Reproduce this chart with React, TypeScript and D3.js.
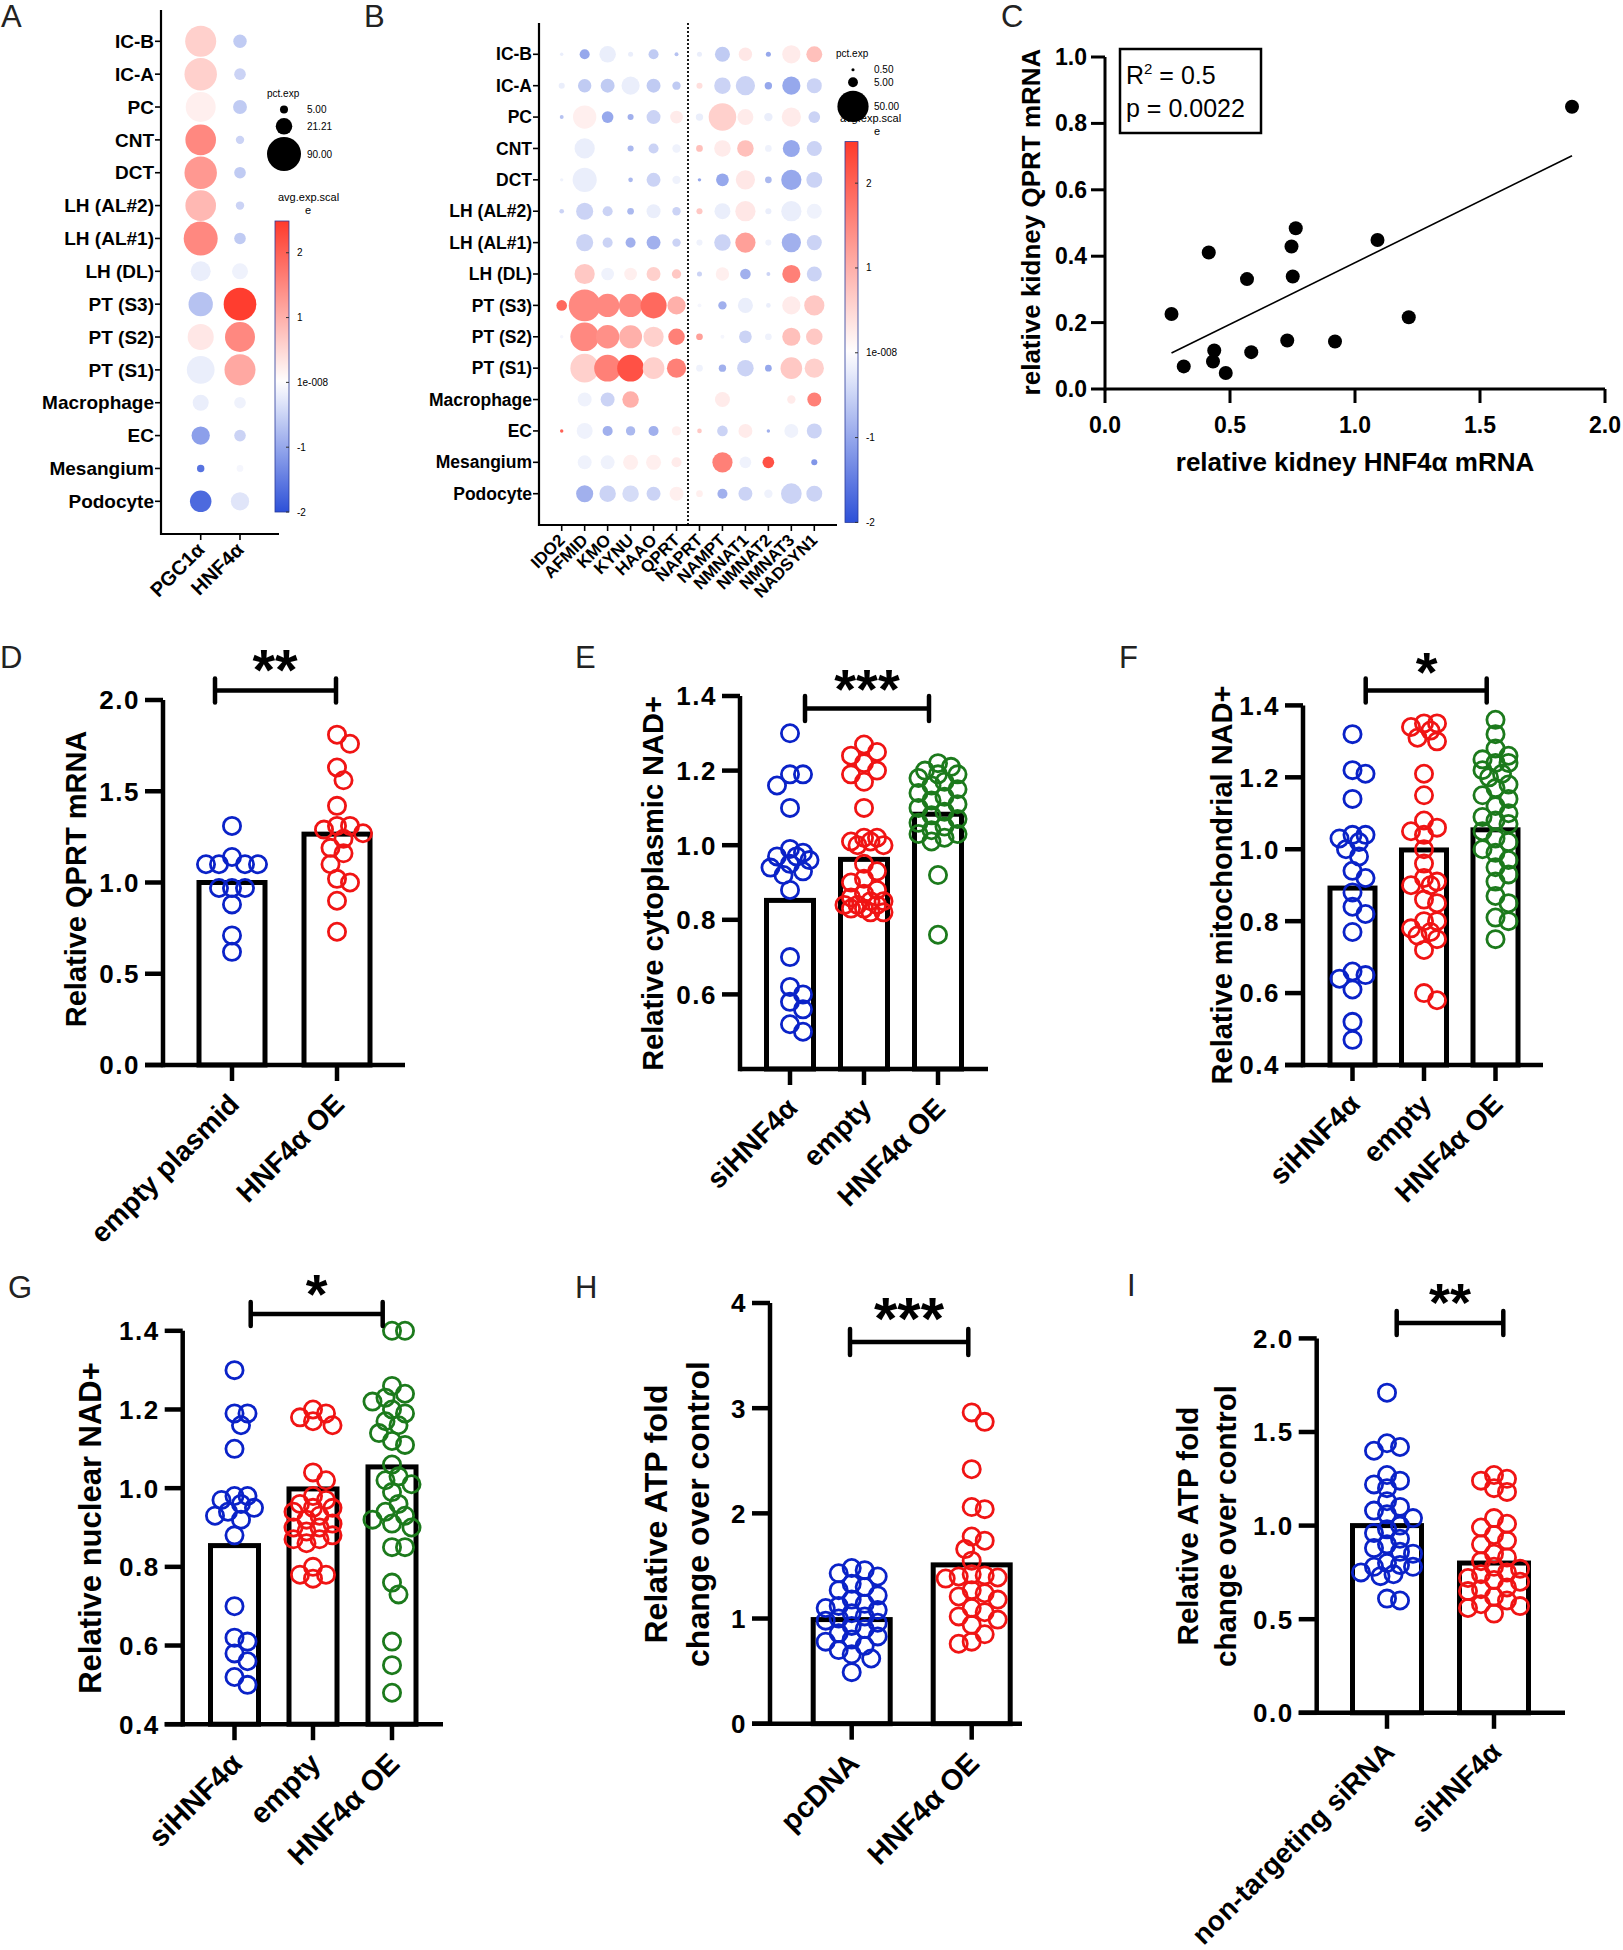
import React from "react";
import * as d3 from "d3";

const FONT = "'Liberation Sans', Arial, Helvetica, sans-serif";

// ---------- A / B : dot plots ----------
const cellTypes = ["IC-B", "IC-A", "PC", "CNT", "DCT", "LH (AL#2)", "LH (AL#1)", "LH (DL)",
  "PT (S3)", "PT (S2)", "PT (S1)", "Macrophage", "EC", "Mesangium", "Podocyte"];

const genesA = ["PGC1α", "HNF4α"];
const pctA = [[75, 14], [82, 10.5], [70, 15], [73, 5.5], [82, 10.5], [73, 5.5], [90, 10.5], [31, 20],
  [46, 83], [53, 70], [60, 75], [20, 10.5], [26, 10.5], [4.3, 3.5], [36, 26]];
const expA = [[0.6, -0.6], [0.6, -0.5], [0.2, -0.6], [1.5, -0.5], [1.3, -0.6], [0.9, -0.5], [1.5, -0.6], [-0.2, -0.15],
  [-0.7, 2.45], [0.3, 1.5], [-0.2, 1.1], [-0.2, -0.15], [-1.1, -0.5], [-1.6, -0.1], [-1.7, -0.3]];

const genesB = ["IDO2", "AFMID", "KMO", "KYNU", "HAAO", "QPRT", "NAPRT", "NAMPT", "NMNAT1", "NMNAT2", "NMNAT3", "NADSYN1"];
const pctB = [
  [0.6, 5.2, 14, 1.3, 5.2, 0.8, 1.3, 11.6, 9.2, 1.3, 17, 13],
  [1.9, 9.2, 10, 17, 10, 3.6, 1.9, 14, 19, 2.8, 17, 11.6],
  [0.8, 28, 7, 1.9, 10, 8.3, 2.8, 39, 13, 3.6, 19, 7],
  [0, 21, 0, 1.9, 5.2, 3.6, 2.3, 14, 14, 2.3, 15, 11.6],
  [0.6, 30, 0, 1.1, 10, 3.6, 0.6, 8.3, 19, 2.3, 21, 13],
  [1.1, 15, 5.2, 2.3, 10, 3.6, 1.9, 13, 21, 1.9, 21, 11.6],
  [0, 15, 5.2, 5.2, 10, 3.6, 1.9, 14, 21, 1.9, 19, 11.6],
  [0, 21, 8.3, 8.3, 10, 4.5, 1.3, 9.2, 5.8, 0.8, 17, 11.6],
  [5.8, 52, 28, 28, 35, 17, 0.8, 3.6, 11.6, 1.1, 17, 21],
  [0.6, 42, 28, 27, 21, 14, 2.3, 0.8, 8.3, 2.3, 17, 14],
  [0, 42, 37, 37, 24, 19, 2.3, 2.8, 14, 2.3, 24, 19],
  [0, 10, 10, 14, 0, 0, 0, 11.6, 0, 0, 3.6, 10],
  [0.6, 13, 5.2, 4.5, 5.2, 4.5, 1.1, 5.8, 10, 0.6, 10, 11.6],
  [0, 10, 10, 11.6, 11.6, 5.2, 0, 21, 7, 7, 0, 1.9],
  [0, 15, 14, 14, 10, 10, 2.3, 5.2, 10, 3.6, 22, 13],
];
const expB = [
  [-0.2, -1.0, -0.2, -0.2, -0.6, -0.7, -0.2, -0.6, 0.3, -1.0, 0.25, 0.8],
  [-0.2, -0.6, -0.6, -0.2, -0.6, -0.6, 0.4, -0.5, -0.5, -1.0, -1.0, -0.5],
  [-0.7, 0.2, -1.0, -0.9, -0.5, 0.25, -0.2, 0.6, 0.25, -0.2, 0.25, -0.5],
  [0, -0.2, 0, -0.8, -0.5, -0.15, 0.8, 0.25, 0.8, -0.15, -1.0, -0.5],
  [-0.15, -0.2, 0, -0.8, -0.5, -0.15, -1.0, -1.0, 0.3, -0.8, -1.0, -0.5],
  [-0.5, -0.5, -0.5, -0.8, -0.2, -0.5, 0.7, -0.2, 0.3, -0.2, -0.2, -0.15],
  [0, -0.5, -0.5, -0.9, -0.9, -0.5, -0.15, -0.5, 1.2, -0.15, -0.9, -0.5],
  [0, 0.7, -0.15, 0.2, 0.6, 0.7, -0.5, 0.2, -0.9, -0.5, 1.6, -0.5],
  [1.9, 1.5, 1.5, 1.5, 1.9, 1.0, -0.1, -0.9, -0.2, -0.2, 0.25, 0.7],
  [-0.1, 1.5, 1.4, 1.0, 0.6, 1.6, 1.2, -0.1, -0.5, -0.15, 0.8, 0.7],
  [0, 0.6, 1.6, 2.2, 0.6, 1.6, -0.15, -0.9, -0.5, -1.0, 0.7, 0.6],
  [0, -0.15, -0.5, 1.0, 0, 0, 0, 0.25, 0, 0, 0.25, 1.6],
  [2.0, -0.15, -0.9, -0.8, -0.9, 0.2, 0.7, -0.5, 0.25, -0.9, -0.15, -0.5],
  [0, -0.15, -0.15, 0.2, 0.2, 0.25, 0, 1.6, -0.15, 2.2, 0, -1.2],
  [0, -0.9, -0.5, -0.4, -0.5, 0.2, 0.2, -0.9, -0.5, -0.15, -0.5, -0.5],
];
const legendPctA = [5, 21.21, 90];
const legendPctB = [0.5, 5, 50];
const colorTicks = [2, 1, 0, -1, -2];
const colorTickLabels = ["2", "1", "1e-008", "-1", "-2"];

// ---------- C : scatter ----------
const hnf4Kidney = [1.868, 1.090, 0.763, 0.746, 0.751, 0.415, 0.568, 0.266, 1.215, 0.729, 0.920, 0.437, 0.585, 0.432, 0.315, 0.483];
const qprtKidney = [0.850, 0.449, 0.484, 0.429, 0.339, 0.411, 0.331, 0.226, 0.216, 0.146, 0.143, 0.116, 0.111, 0.083, 0.068, 0.048];

// ---------- D..I : bar + scatter ----------
const dCats = ["empty plasmid", "HNF4α OE"];
const dMeans = [1.0, 1.265];
const dEmpty = [1.31, 1.10, 1.10, 1.10, 1.10, 1.14, 0.97, 0.97, 0.97, 0.88, 0.71, 0.62];
const dOE = [1.81, 1.76, 1.63, 1.56, 1.42, 1.31, 1.31, 1.29, 1.27, 1.24, 1.19, 1.16, 1.10, 1.02, 1.00, 0.90, 0.73];

const nadCats = ["siHNF4α", "empty", "HNF4α OE"];
const eMeans = [0.852, 0.962, 1.083];
const eSi = [1.30, 1.19, 1.19, 1.16, 1.10, 0.99, 0.98, 0.97, 0.97, 0.96, 0.95, 0.94, 0.93, 0.92, 0.88, 0.70, 0.62, 0.60, 0.58, 0.56, 0.52, 0.50];
const eEmpty = [1.27, 1.25, 1.24, 1.22, 1.20, 1.19, 1.17, 1.10, 1.02, 1.02, 1.01, 1.01, 1.00, 1.00, 0.95, 0.93, 0.91, 0.90, 0.88, 0.87, 0.86, 0.85, 0.85, 0.84, 0.84, 0.84, 0.83, 0.83, 0.82, 0.82];
const eOE = [1.22, 1.21, 1.20, 1.19, 1.19, 1.18, 1.17, 1.16, 1.15, 1.14, 1.13, 1.12, 1.11, 1.10, 1.09, 1.08, 1.07, 1.06, 1.05, 1.04, 1.03, 1.03, 1.02, 1.01, 0.92, 0.76];

const fMeans = [0.892, 0.998, 1.054];
const fSi = [1.32, 1.22, 1.21, 1.14, 1.04, 1.04, 1.03, 1.02, 1.00, 0.98, 0.94, 0.92, 0.88, 0.84, 0.82, 0.77, 0.66, 0.65, 0.64, 0.61, 0.52, 0.47];
const fEmpty = [1.35, 1.35, 1.34, 1.33, 1.31, 1.30, 1.21, 1.15, 1.08, 1.06, 1.05, 1.04, 1.00, 0.96, 0.92, 0.91, 0.90, 0.90, 0.86, 0.85, 0.80, 0.80, 0.78, 0.77, 0.76, 0.75, 0.72, 0.60, 0.58];
const fOE = [1.36, 1.32, 1.28, 1.26, 1.25, 1.24, 1.24, 1.22, 1.21, 1.20, 1.18, 1.17, 1.15, 1.14, 1.12, 1.10, 1.09, 1.08, 1.07, 1.05, 1.03, 1.02, 1.00, 0.99, 0.97, 0.95, 0.93, 0.91, 0.87, 0.85, 0.81, 0.80, 0.75];

const gMeans = [0.854, 0.998, 1.054];
const gSi = [1.30, 1.19, 1.19, 1.16, 1.10, 0.98, 0.98, 0.97, 0.96, 0.95, 0.94, 0.93, 0.92, 0.88, 0.70, 0.62, 0.61, 0.58, 0.56, 0.52, 0.50];
const gEmpty = [1.20, 1.19, 1.18, 1.17, 1.16, 1.04, 1.02, 0.98, 0.97, 0.96, 0.95, 0.95, 0.94, 0.93, 0.92, 0.91, 0.90, 0.90, 0.89, 0.88, 0.87, 0.87, 0.86, 0.80, 0.78, 0.78, 0.77];
const gOE = [1.40, 1.40, 1.26, 1.24, 1.23, 1.22, 1.20, 1.19, 1.17, 1.16, 1.14, 1.12, 1.11, 1.06, 1.03, 1.02, 1.01, 0.99, 0.96, 0.94, 0.93, 0.92, 0.91, 0.90, 0.85, 0.85, 0.76, 0.73, 0.61, 0.55, 0.48];

const hCats = ["pcDNA", "HNF4α OE"];
const hMeans = [0.99, 1.51];
const hPc = [1.48, 1.46, 1.43, 1.40, 1.33, 1.30, 1.27, 1.22, 1.18, 1.14, 1.12, 1.10, 1.08, 1.05, 1.02, 1.00, 0.98, 0.96, 0.93, 0.90, 0.86, 0.83, 0.80, 0.78, 0.74, 0.70, 0.66, 0.62, 0.49];
const hOE = [2.96, 2.87, 2.42, 2.06, 2.04, 1.78, 1.74, 1.66, 1.55, 1.42, 1.41, 1.40, 1.39, 1.38, 1.27, 1.24, 1.21, 1.18, 1.10, 1.06, 1.02, 0.99, 0.94, 0.85, 0.78, 0.76];

const iCats = ["non-targeting siRNA", "siHNF4α"];
const iMeans = [1.0, 0.80];
const iNt = [1.71, 1.44, 1.42, 1.40, 1.27, 1.24, 1.22, 1.20, 1.13, 1.10, 1.08, 1.06, 1.04, 1.00, 0.98, 0.96, 0.93, 0.90, 0.88, 0.86, 0.85, 0.80, 0.79, 0.78, 0.78, 0.75, 0.74, 0.73, 0.61, 0.60];
const iSi = [1.27, 1.25, 1.24, 1.20, 1.18, 1.04, 1.01, 0.99, 0.95, 0.92, 0.90, 0.85, 0.83, 0.81, 0.78, 0.77, 0.75, 0.74, 0.72, 0.71, 0.70, 0.67, 0.66, 0.65, 0.62, 0.60, 0.58, 0.57, 0.56, 0.53];

const BLUE = "#0a22c8";
const RED = "#f01414";
const GREEN = "#1c7a1c";

const expColor = d3.scaleLinear<string>()
  .domain([-2, 0, 2.49])
  .range(["#2d50d8", "#ffffff", "#ff3a2c"])
  .interpolate(d3.interpolateRgb)
  .clamp(true);

// simple beeswarm so the open circles spread like GraphPad does
function swarm(vals: number[], y: (v: number) => number, cx: number, maxOff: number, minD: number) {
  const step = minD / 2;
  const n = Math.floor(maxOff / step);
  const offs = [0];
  for (let k = 1; k <= n; k++) offs.push(k * step, -k * step);
  const placed: { x: number; y: number }[] = [];
  const order = vals.map((v, i) => i).sort((a, b) => vals[b] - vals[a]);
  const out: { x: number; y: number }[] = new Array(vals.length);
  for (const i of order) {
    const py = y(vals[i]);
    let best = 0, bestD = -1;
    for (const o of offs) {
      let d = Infinity;
      for (const q of placed) d = Math.min(d, Math.hypot(q.x - (cx + o), q.y - py));
      if (d >= minD) { best = o; bestD = d; break; }
      if (d > bestD) { bestD = d; best = o; }
    }
    const p = { x: cx + best, y: py };
    placed.push(p);
    out[i] = p;
  }
  return out;
}

function DotPlot({ id, genes, pct, exp, L }: any) {
  const y = d3.scalePoint<string>().domain(cellTypes).range([L.rowTop, L.rowBottom]);
  const x = d3.scalePoint<string>().domain(genes).range([L.colLeft, L.colRight]);
  const r = d3.scaleSqrt().domain([0, L.pctMax]).range([0, L.rMax]);
  const cb = d3.scaleLinear().domain([-2, 2.49]).range([L.cbBottom, L.cbTop]);
  const stops = d3.range(0, 1.0001, 0.05);
  return (
    <g>
      <defs>
        <linearGradient id={id} x1="0" y1="1" x2="0" y2="0">
          {stops.map((t) => <stop key={t} offset={t} stopColor={expColor(-2 + t * 4.49)} />)}
        </linearGradient>
      </defs>
      <text x={L.lx} y={L.ly} fontSize={31} fill="#222">{L.letter}</text>
      {L.dotted != null && (
        <line x1={L.dotted} x2={L.dotted} y1={L.axisTop} y2={L.axisY} stroke="#000" strokeWidth={1.8} strokeDasharray="2,2" />
      )}
      {cellTypes.map((ct, i) => genes.map((g: string, j: number) => pct[i][j] > 0 ? (
        <circle key={ct + g} cx={x(g)} cy={y(ct)} r={r(pct[i][j])} fill={expColor(exp[i][j])} />
      ) : null))}
      <line x1={L.axisX} x2={L.axisX} y1={L.axisTop} y2={L.axisY + 1} stroke="#000" strokeWidth={2.2} />
      <line x1={L.axisX} x2={L.axisEnd} y1={L.axisY} y2={L.axisY} stroke="#000" strokeWidth={2.2} />
      {cellTypes.map((ct) => (
        <g key={ct}>
          <line x1={L.axisX - 6} x2={L.axisX} y1={y(ct)} y2={y(ct)} stroke="#000" strokeWidth={1.6} />
          <text x={L.axisX - 7} y={y(ct)} dy="0.35em" textAnchor="end" fontSize={L.rowFs} fontWeight="bold">{ct}</text>
        </g>
      ))}
      {genes.map((g: string) => (
        <g key={g}>
          <line x1={x(g)} x2={x(g)} y1={L.axisY} y2={L.axisY + 6} stroke="#000" strokeWidth={1.6} />
          <text transform={`translate(${x(g)},${L.axisY + 12}) rotate(-45)`} dy="0.35em" textAnchor="end"
            fontSize={L.colFs} fontWeight="bold">{g}</text>
        </g>
      ))}
      {/* size legend */}
      <text x={L.pctX} y={L.pctY} fontSize={L.legFs}>pct.exp</text>
      <text x={L.avgX} y={L.avgY} fontSize={L.legFs + 1}>avg.exp.scal</text>
      <text x={L.eX} y={L.avgY + 13} fontSize={L.legFs + 1} textAnchor="middle">e</text>
      {L.legendPct.map((p: number, k: number) => (
        <g key={p}>
          <circle cx={L.legCx} cy={L.legYs[k]} r={r(p)} fill="#000" />
          <text x={L.legLabelX} y={L.legYs[k]} dy="0.35em" fontSize={L.legFs}>{d3.format(".2f")(p)}</text>
        </g>
      ))}
      {/* colour bar */}
      <rect x={L.cbX} y={L.cbTop} width={L.cbW} height={L.cbBottom - L.cbTop} fill={`url(#${id})`} stroke="#2a3a9a" strokeWidth={0.8} />
      {colorTicks.map((v, k) => (
        <g key={v}>
          <line x1={L.cbX + L.cbW - 3} x2={L.cbX + L.cbW} y1={cb(v)} y2={cb(v)} stroke="#333" strokeWidth={1} />
          <text x={L.cbLabelX} y={cb(v)} dy="0.35em" fontSize={L.legFs}>{colorTickLabels[k]}</text>
        </g>
      ))}
    </g>
  );
}

function Scatter() {
  const x = d3.scaleLinear().domain([0, 2]).range([1105, 1605]);
  const y = d3.scaleLinear().domain([0, 1]).range([389, 57]);
  const mx = d3.mean(hnf4Kidney) as number;
  const my = d3.mean(qprtKidney) as number;
  const slope = d3.sum(hnf4Kidney.map((v, i) => (v - mx) * (qprtKidney[i] - my))) / d3.sum(hnf4Kidney.map((v) => (v - mx) ** 2));
  const icpt = my - slope * mx;
  const [x0, x1] = d3.extent(hnf4Kidney) as [number, number];
  const line = d3.line<number>().x((v) => x(v)).y((v) => y(icpt + slope * v));
  return (
    <g>
      <text x={1001} y={27} fontSize={31} fill="#222">C</text>
      <line x1={x(0)} x2={x(0)} y1={y(1)} y2={y(0) + 1.5} stroke="#000" strokeWidth={3} />
      <line x1={x(0)} x2={x(2)} y1={y(0)} y2={y(0)} stroke="#000" strokeWidth={3} />
      {y.ticks(5).map((t) => (
        <g key={t}>
          <line x1={x(0) - 14} x2={x(0)} y1={y(t)} y2={y(t)} stroke="#000" strokeWidth={3} />
          <text x={1087} y={y(t)} dy="0.35em" textAnchor="end" fontSize={23} fontWeight="bold">{d3.format(".1f")(t)}</text>
        </g>
      ))}
      {x.ticks(4).map((t) => (
        <g key={t}>
          <line x1={x(t)} x2={x(t)} y1={y(0)} y2={y(0) + 14} stroke="#000" strokeWidth={3} />
          <text x={x(t)} y={433} textAnchor="middle" fontSize={23} fontWeight="bold">{d3.format(".1f")(t)}</text>
        </g>
      ))}
      <path d={line([x0, x1]) as string} stroke="#000" strokeWidth={1.6} fill="none" />
      {hnf4Kidney.map((v, i) => (
        <circle key={i} cx={x(v)} cy={y(qprtKidney[i])} r={7} fill="#000" />
      ))}
      <rect x={1120} y={49} width={141} height={84} fill="none" stroke="#000" strokeWidth={2.5} />
      <text x={1126} y={84} fontSize={25}>R<tspan fontSize={15} dy={-10}>2</tspan><tspan dy={10}> = 0.5</tspan></text>
      <text x={1126} y={117} fontSize={25}>p = 0.0022</text>
      <text transform={`translate(1031,222) rotate(-90)`} dy="0.35em" textAnchor="middle" fontSize={26} fontWeight="bold">relative kidney QPRT mRNA</text>
      <text x={1355} y={471} textAnchor="middle" fontSize={26} fontWeight="bold">relative kidney HNF4α mRNA</text>
    </g>
  );
}

function BarScatter({ cats, means, groups, colors, L }: any) {
  const y = d3.scaleLinear().domain(L.domain).range([L.yBottom, L.yTop]);
  const x = d3.scaleOrdinal<string, number>().domain(cats).range(L.centers);
  const fmt = d3.format(L.fmt);
  const TL = 18;
  const hasBottomTick = L.ticks[0] === L.domain[0];
  const R = 8.6;
  return (
    <g>
      <text x={L.lx} y={L.ly} fontSize={31} fill="#222">{L.letter}</text>
      {cats.map((c: string, i: number) => (
        <rect key={c} x={x(c) - L.barW / 2} y={y(means[i])} width={L.barW} height={y(L.domain[0]) - y(means[i])}
          fill="#fff" stroke="#000" strokeWidth={5} />
      ))}
      <line x1={L.axisX} x2={L.axisX} y1={L.yTop} y2={L.yBottom + 2.2} stroke="#000" strokeWidth={4.5} />
      <line x1={hasBottomTick ? L.axisX - TL : L.axisX} x2={L.xEnd} y1={L.yBottom} y2={L.yBottom} stroke="#000" strokeWidth={4.5} />
      {L.ticks.map((t: number) => (
        <g key={t}>
          <line x1={L.axisX - TL} x2={L.axisX} y1={y(t)} y2={y(t)} stroke="#000" strokeWidth={4.5} />
          <text x={L.axisX - TL - 5} y={y(t)} dy="0.36em" textAnchor="end" fontSize={26} fontWeight="bold" letterSpacing={1.5}>{fmt(t)}</text>
        </g>
      ))}
      {cats.map((c: string) => (
        <g key={c}>
          <line x1={x(c)} x2={x(c)} y1={L.yBottom} y2={L.yBottom + 16} stroke="#000" strokeWidth={4.5} />
          <text transform={`translate(${x(c) + 2},${L.yBottom + 34}) rotate(-45)`} dy="0.35em" textAnchor="end"
            fontSize={L.catFs} fontWeight="bold">{c}</text>
        </g>
      ))}
      {groups.map((vals: number[], gi: number) =>
        swarm(vals, y, x(cats[gi]), L.barW * 0.42, 13).map((p, k) => (
          <circle key={gi + "-" + k} cx={p.x} cy={p.y} r={R} fill="none" stroke={colors[gi]} strokeWidth={2.8} />
        ))
      )}
      <line x1={L.sig.x0} x2={L.sig.x1} y1={L.sig.y} y2={L.sig.y} stroke="#000" strokeWidth={4.5} />
      <line x1={L.sig.x0} x2={L.sig.x0} y1={L.sig.y - L.sig.cap} y2={L.sig.y + L.sig.cap} stroke="#000" strokeWidth={4.5} strokeLinecap="round" />
      <line x1={L.sig.x1} x2={L.sig.x1} y1={L.sig.y - L.sig.cap} y2={L.sig.y + L.sig.cap} stroke="#000" strokeWidth={4.5} strokeLinecap="round" />
      <text x={L.sig.tx} y={L.sig.ty + 0.46 * L.sig.fs} textAnchor="middle" fontSize={L.sig.fs} fontWeight="bold">{L.sig.label}</text>
      {L.titles.map((t: string, k: number) => (
        <text key={t} transform={`translate(${L.titleX[k]},${L.titleY}) rotate(-90)`} dy="0.35em" textAnchor="middle"
          fontSize={L.titleFs} fontWeight="bold">{t}</text>
      ))}
    </g>
  );
}

const layoutA = {
  letter: "A", lx: 1, ly: 27, rowTop: 41.3, rowBottom: 501.3, colLeft: 200.7, colRight: 240,
  axisX: 161, axisTop: 10, axisY: 534, axisEnd: 279, rowFs: 19, colFs: 20, pctMax: 90, rMax: 17,
  pctX: 267, pctY: 97, legendPct: legendPctA, legCx: 284, legYs: [109.5, 126.3, 154], legLabelX: 307, legFs: 10,
  avgX: 278, avgY: 201, eX: 308, cbX: 275, cbW: 14, cbTop: 221, cbBottom: 512, cbLabelX: 297,
};
const layoutB = {
  letter: "B", lx: 364, ly: 27, rowTop: 54.3, rowBottom: 493.7, colLeft: 561.7, colRight: 814.3,
  axisX: 539, axisTop: 23, axisY: 525, axisEnd: 837, rowFs: 17.5, colFs: 17, pctMax: 50, rMax: 15.6, dotted: 688,
  pctX: 836, pctY: 57, legendPct: legendPctB, legCx: 853, legYs: [69.7, 82.3, 106.4], legLabelX: 874, legFs: 10,
  avgX: 840, avgY: 122, eX: 877, cbX: 845, cbW: 13, cbTop: 141.6, cbBottom: 522.4, cbLabelX: 866,
};

const ticks04 = [0.4, 0.6, 0.8, 1.0, 1.2, 1.4];

const layoutD = {
  letter: "D", lx: 0, ly: 668, axisX: 163, yTop: 700, yBottom: 1065, domain: [0, 2], ticks: [0, 0.5, 1, 1.5, 2], fmt: ".1f",
  centers: [232, 337], barW: 66, xEnd: 405, catFs: 28,
  sig: { x0: 215, x1: 336, y: 690.5, cap: 12, tx: 275, ty: 663.5, fs: 58, label: "**" },
  titles: ["Relative QPRT mRNA"], titleX: [76], titleY: 879, titleFs: 29,
};
const layoutE = {
  letter: "E", lx: 575, ly: 668, axisX: 740, yTop: 696, yBottom: 1069, domain: [0.4, 1.4], ticks: [0.6, 0.8, 1.0, 1.2, 1.4], fmt: ".1f",
  centers: [790, 864, 938], barW: 47, xEnd: 988, catFs: 28,
  sig: { x0: 805, x1: 929, y: 708.5, cap: 12.5, tx: 867, ty: 682, fs: 56, label: "***" },
  titles: ["Relative cytoplasmic NAD+"], titleX: [653], titleY: 883.5, titleFs: 29,
};
const layoutF = {
  letter: "F", lx: 1119, ly: 668, axisX: 1303, yTop: 705.4, yBottom: 1065, domain: [0.4, 1.4], ticks: ticks04, fmt: ".1f",
  centers: [1352.5, 1424, 1495.5], barW: 45, xEnd: 1543, catFs: 28,
  sig: { x0: 1365.7, x1: 1486.7, y: 690.5, cap: 12, tx: 1426.7, ty: 665, fs: 56, label: "*" },
  titles: ["Relative mitochondrial NAD+"], titleX: [1221.7], titleY: 885, titleFs: 29,
};
const layoutG = {
  letter: "G", lx: 8, ly: 1297.5, axisX: 182.7, yTop: 1330.8, yBottom: 1724.2, domain: [0.4, 1.4], ticks: ticks04, fmt: ".1f",
  centers: [234.5, 313, 392], barW: 48, xEnd: 443, catFs: 29,
  sig: { x0: 250.7, x1: 382.7, y: 1314, cap: 12, tx: 316.7, ty: 1287, fs: 56, label: "*" },
  titles: ["Relative nuclear NAD+"], titleX: [90], titleY: 1528, titleFs: 31,
};
const layoutH = {
  letter: "H", lx: 575, ly: 1298, axisX: 770, yTop: 1303, yBottom: 1723.7, domain: [0, 4], ticks: [0, 1, 2, 3, 4], fmt: "d",
  centers: [851.7, 971.7], barW: 77, xEnd: 1022, catFs: 29,
  sig: { x0: 850, x1: 968.3, y: 1342, cap: 13, tx: 909, ty: 1311, fs: 60, label: "***" },
  titles: ["Relative ATP fold", "change over control"], titleX: [655.8, 697.5], titleY: 1514, titleFs: 32,
};
const layoutI = {
  letter: "I", lx: 1127, ly: 1296, axisX: 1316.7, yTop: 1338.4, yBottom: 1712.8, domain: [0, 2], ticks: [0, 0.5, 1, 1.5, 2], fmt: ".1f",
  centers: [1387, 1494], barW: 69, xEnd: 1565, catFs: 28,
  sig: { x0: 1396.7, x1: 1503.3, y: 1323, cap: 12, tx: 1450, ty: 1296, fs: 54, label: "**" },
  titles: ["Relative ATP fold", "change over control"], titleX: [1188, 1226], titleY: 1526, titleFs: 29.5,
};

export default function App() {
  return (
    <svg width={1623} height={1950} viewBox="0 0 1623 1950" fontFamily={FONT}
      style={{ position: "absolute", left: 0, top: 0, display: "block", background: "#fff" }}>
      <rect width={1623} height={1950} fill="#fff" />
      <DotPlot id="gradA" genes={genesA} pct={pctA} exp={expA} L={layoutA} />
      <DotPlot id="gradB" genes={genesB} pct={pctB} exp={expB} L={layoutB} />
      <Scatter />
      <BarScatter cats={dCats} means={dMeans} groups={[dEmpty, dOE]} colors={[BLUE, RED]} L={layoutD} />
      <BarScatter cats={nadCats} means={eMeans} groups={[eSi, eEmpty, eOE]} colors={[BLUE, RED, GREEN]} L={layoutE} />
      <BarScatter cats={nadCats} means={fMeans} groups={[fSi, fEmpty, fOE]} colors={[BLUE, RED, GREEN]} L={layoutF} />
      <BarScatter cats={nadCats} means={gMeans} groups={[gSi, gEmpty, gOE]} colors={[BLUE, RED, GREEN]} L={layoutG} />
      <BarScatter cats={hCats} means={hMeans} groups={[hPc, hOE]} colors={[BLUE, RED]} L={layoutH} />
      <BarScatter cats={iCats} means={iMeans} groups={[iNt, iSi]} colors={[BLUE, RED]} L={layoutI} />
    </svg>
  );
}
